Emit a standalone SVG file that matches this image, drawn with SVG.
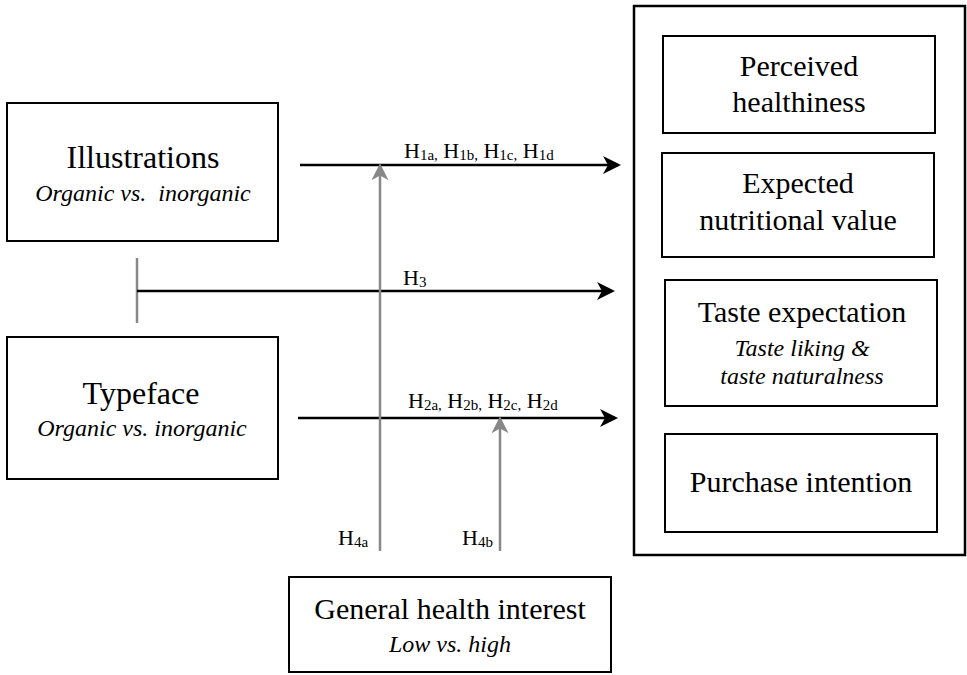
<svg xmlns="http://www.w3.org/2000/svg" width="967" height="675" viewBox="0 0 967 675">
<defs>
<style>
.box{fill:#fff;stroke:#000;stroke-width:2}
.t{font-family:"Liberation Serif","Times New Roman",serif;fill:#000;text-anchor:middle}
.big{font-size:30px}
.lg{font-size:32px}
.it{font-size:24px;font-style:italic}
.lab{font-family:"Liberation Serif","Times New Roman",serif;font-size:22px;fill:#000}
.sub{font-size:15px}
.blk{stroke:#000;stroke-width:2.5;fill:none}
.gry{stroke:#888;stroke-width:2.5;fill:none}
</style>
<marker id="ab" viewBox="0 0 18 18" refX="15" refY="9" markerWidth="18" markerHeight="18" markerUnits="userSpaceOnUse" orient="auto">
<path d="M0,0 L18,9 L0,18 L5,9 Z" fill="#000"/>
</marker>
<marker id="ag" viewBox="0 0 18 18" refX="15" refY="9" markerWidth="17" markerHeight="17" markerUnits="userSpaceOnUse" orient="auto">
<path d="M0,0 L18,9 L0,18 L5,9 Z" fill="#888"/>
</marker>
</defs>
<rect width="967" height="675" fill="#fff"/>
<g id="outcomes">
<rect x="634" y="6" width="331" height="549" fill="#fff" stroke="#000" stroke-width="2.5"/>
</g>
<g id="perceived">
<rect class="box" x="663" y="36" width="272" height="97"/>
<text class="t big" x="799" y="76">Perceived</text>
<text class="t big" x="799" y="112">healthiness</text>
</g>
<g id="expected">
<rect class="box" x="662" y="153" width="272" height="104"/>
<text class="t big" x="798" y="193">Expected</text>
<text class="t big" x="798" y="230">nutritional value</text>
</g>
<g id="taste">
<rect class="box" x="665" y="280" width="272" height="126"/>
<text class="t big" x="802" y="322">Taste expectation</text>
<text class="t it" x="802" y="356">Taste liking &amp;</text>
<text class="t it" x="802" y="384">taste naturalness</text>
</g>
<g id="purchase">
<rect class="box" x="665" y="434" width="272" height="98"/>
<text class="t big" x="801" y="492">Purchase intention</text>
</g>
<g id="illustrations">
<rect class="box" x="7" y="103" width="271" height="138"/>
<text class="t lg" x="143" y="168">Illustrations</text>
<text class="t it" x="143" y="201" xml:space="preserve">Organic vs.  inorganic</text>
</g>
<g id="typeface">
<rect class="box" x="7" y="337" width="271" height="142"/>
<text class="t lg" x="141" y="404">Typeface</text>
<text class="t it" x="142" y="436">Organic vs. inorganic</text>
</g>
<g id="health">
<rect class="box" x="289" y="577" width="322" height="95"/>
<text class="t big" x="450" y="619">General health interest</text>
<text class="t it" x="450" y="652">Low vs. high</text>
</g>
<g id="connectors">
<line class="blk" x1="300" y1="165" x2="618" y2="165" marker-end="url(#ab)"/>
<line class="gry" x1="137" y1="258" x2="137" y2="323"/>
<line class="blk" x1="137" y1="291" x2="612" y2="291" marker-end="url(#ab)"/>
<line class="blk" x1="298" y1="418" x2="615" y2="418" marker-end="url(#ab)"/>
<line class="gry" x1="380" y1="551" x2="380" y2="166" marker-end="url(#ag)"/>
<line class="gry" x1="500" y1="551" x2="500" y2="419" marker-end="url(#ag)"/>
<text class="lab" x="404" y="158">H<tspan class="sub" dy="2">1a,</tspan><tspan dy="-2"> H</tspan><tspan class="sub" dy="2">1b,</tspan><tspan dy="-2"> H</tspan><tspan class="sub" dy="2">1c,</tspan><tspan dy="-2"> H</tspan><tspan class="sub" dy="2">1d</tspan></text>
<text class="lab" x="403" y="285">H<tspan class="sub" dy="2">3</tspan></text>
<text class="lab" x="408" y="408">H<tspan class="sub" dy="2">2a,</tspan><tspan dy="-2"> H</tspan><tspan class="sub" dy="2">2b,</tspan><tspan dy="-2"> H</tspan><tspan class="sub" dy="2">2c,</tspan><tspan dy="-2"> H</tspan><tspan class="sub" dy="2">2d</tspan></text>
<text class="lab" x="338" y="545">H<tspan class="sub" dy="2">4a</tspan></text>
<text class="lab" x="462" y="545">H<tspan class="sub" dy="2">4b</tspan></text>
</g>
</svg>
